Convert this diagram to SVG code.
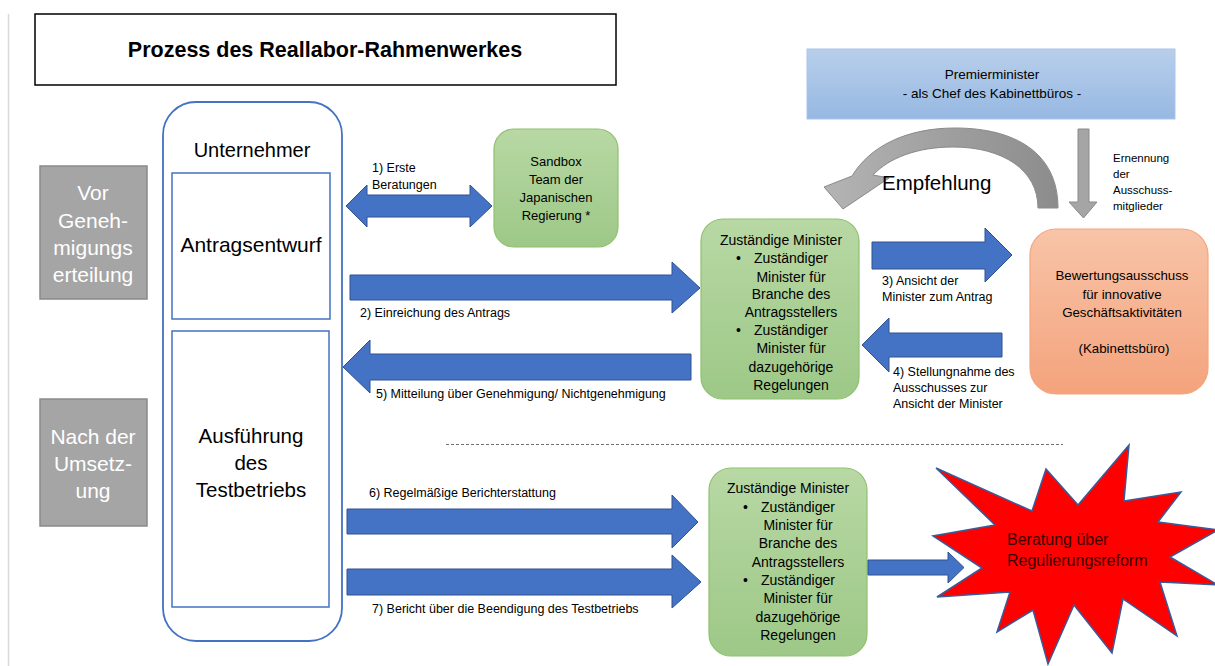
<svg xmlns="http://www.w3.org/2000/svg" width="1215" height="666" viewBox="0 0 1215 666">
<defs>
<linearGradient id="gGreen" x1="0" y1="0" x2="0" y2="1"><stop offset="0" stop-color="#b8d8a4"/><stop offset="1" stop-color="#9dc887"/></linearGradient>
<linearGradient id="gBlue" x1="0" y1="0" x2="0" y2="1"><stop offset="0" stop-color="#b8cfeb"/><stop offset="1" stop-color="#97b8e2"/></linearGradient>
<linearGradient id="gOrange" x1="0" y1="0" x2="0" y2="1"><stop offset="0" stop-color="#f8c4a8"/><stop offset="1" stop-color="#f4a37c"/></linearGradient>
<linearGradient id="gGray" x1="0" y1="0" x2="1" y2="0"><stop offset="0" stop-color="#b4b4b4"/><stop offset="1" stop-color="#8c8c8c"/></linearGradient>
</defs>
<style>
text{font-family:"Liberation Sans",Arial,sans-serif;fill:#000}
.lbl{font-size:12.5px}
.box{font-size:14px}
.big{font-size:20.5px}
.wh{font-size:21px;fill:#fff}
.c{text-anchor:middle}
.arr{fill:#4472c4;stroke:#2f528f;stroke-width:1}
.green{fill:url(#gGreen);stroke:#90c070;stroke-width:1.2}
.inner{fill:#fff;stroke:#4472c4;stroke-width:1.5}
.side{fill:#a5a5a5;stroke:#8a8a8a;stroke-width:1.5}
</style>
<rect width="1215" height="666" fill="#fff"/>
<line x1="8.5" y1="14" x2="8.5" y2="666" stroke="#d9d9d9" stroke-width="1.5"/>

<g id="title">
<rect x="35" y="14" width="581" height="71" fill="#fff" stroke="#000" stroke-width="1.5"/>
<text x="325" y="57" class="c" style="font-size:21.5px;font-weight:bold">Prozess des Reallabor-Rahmenwerkes</text>
</g>

<g id="phase-before">
<rect x="40" y="166" width="107" height="133" class="side"/>
<text class="wh c" x="93" y="200">Vor</text>
<text class="wh c" x="93" y="228">Geneh-</text>
<text class="wh c" x="93" y="255">migungs</text>
<text class="wh c" x="93" y="282">erteilung</text>
</g>
<g id="phase-after">
<rect x="40" y="399" width="107" height="127" class="side"/>
<text class="wh c" x="93" y="444">Nach der</text>
<text class="wh c" x="93" y="471">Umsetz-</text>
<text class="wh c" x="93" y="498">ung</text>
</g>

<g id="unternehmer">
<rect x="163" y="102" width="179" height="539" rx="33" ry="33" fill="#fff" stroke="#4472c4" stroke-width="1.8"/>
<text class="c" x="252" y="157" style="font-size:20px">Unternehmer</text>
</g>
<g id="antragsentwurf">
<rect x="172" y="173" width="158" height="146" class="inner"/>
<text class="c" x="251" y="252" style="font-size:21px">Antragsentwurf</text>
</g>
<g id="ausfuehrung">
<rect x="172" y="331" width="157" height="276" class="inner"/>
<text class="big c" x="251" y="443">Ausführung</text>
<text class="big c" x="251" y="470">des</text>
<text class="big c" x="251" y="497">Testbetriebs</text>
</g>

<g id="sandbox">
<rect x="494" y="129" width="124" height="118" rx="20" ry="20" class="green"/>
<text class="c" style="font-size:13px" x="556" y="166">Sandbox</text>
<text class="c" style="font-size:13px" x="556" y="184">Team der</text>
<text class="c" style="font-size:13px" x="556" y="202">Japanischen</text>
<text class="c" style="font-size:13px" x="556" y="220">Regierung *</text>
</g>

<g id="minister-top">
<rect x="701" y="219" width="158" height="180" rx="22" ry="22" class="green"/>
<text class="box c" x="781" y="245">Zuständige Minister</text>
<text class="box" x="736" y="263">•</text>
<text class="box c" x="791" y="263">Zuständiger</text>
<text class="box c" x="791" y="282">Minister für</text>
<text class="box c" x="791" y="299">Branche des</text>
<text class="box c" x="791" y="317">Antragsstellers</text>
<text class="box" x="736" y="335">•</text>
<text class="box c" x="791" y="335">Zuständiger</text>
<text class="box c" x="791" y="353">Minister für</text>
<text class="box c" x="791" y="372">dazugehörige</text>
<text class="box c" x="791" y="390">Regelungen</text>
</g>

<g id="minister-bottom">
<rect x="709" y="468" width="158" height="188" rx="22" ry="22" class="green"/>
<text class="box c" x="788" y="493">Zuständige Minister</text>
<text class="box" x="743" y="512">•</text>
<text class="box c" x="798" y="512">Zuständiger</text>
<text class="box c" x="798" y="530">Minister für</text>
<text class="box c" x="798" y="548">Branche des</text>
<text class="box c" x="798" y="567">Antragsstellers</text>
<text class="box" x="743" y="585">•</text>
<text class="box c" x="798" y="585">Zuständiger</text>
<text class="box c" x="798" y="603">Minister für</text>
<text class="box c" x="798" y="622">dazugehörige</text>
<text class="box c" x="798" y="640">Regelungen</text>
</g>

<g id="premierminister">
<rect x="807" y="49" width="368" height="70" fill="url(#gBlue)" stroke="#a8c6ea" stroke-width="1"/>
<text class="c" style="font-size:13.5px" x="992" y="79">Premierminister</text>
<text class="c" style="font-size:13.5px" x="992" y="98">- als Chef des Kabinettbüros -</text>
</g>

<g id="bewertungsausschuss">
<rect x="1030" y="229" width="178" height="165" rx="26" ry="26" fill="url(#gOrange)" stroke="#f2a67c" stroke-width="1.2"/>
<text class="c" style="font-size:13.3px" x="1122" y="280">Bewertungsausschuss</text>
<text class="c" style="font-size:13.3px" x="1122" y="299">für innovative</text>
<text class="c" style="font-size:13.3px" x="1122" y="317">Geschäftsaktivitäten</text>
<text class="c" style="font-size:13.3px" x="1124" y="353">(Kabinettsbüro)</text>
</g>

<g id="beratung">
<polygon points="936,468 1032,511 1046,469 1078,505 1129,445 1124,501 1181,492 1158,522 1218,530 1170,557 1218,585 1160,582 1177,636 1123,599 1112,653 1074,605 1048,664 1033,610 997,632 1010,592 937,597 982,568 933,536 995,525" fill="#ff0000" stroke="#3a5a9a" stroke-width="1.5" stroke-linejoin="miter"/>
<text x="1007" y="545" style="font-size:16px;fill:#3a0000">Beratung über</text>
<text x="1007" y="566" style="font-size:16px;fill:#3a0000">Regulierungsreform</text>
</g>

<g id="connectors">
<polygon class="arr" points="346,206 367,185 367,195 470,195 470,185 492,206 470,227 470,217 367,217 367,227"/>
<text class="lbl" x="372" y="172">1) Erste</text>
<text class="lbl" x="372" y="189">Beratungen</text>

<polygon class="arr" points="350,275 672,275 672,262 700,288 672,313 672,300 350,300"/>
<text class="lbl" x="360" y="317">2) Einreichung des Antrags</text>

<polygon class="arr" points="872,242 985,242 985,228 1012,255 985,282 985,269 872,269"/>
<text class="lbl" x="882" y="285">3) Ansicht der</text>
<text class="lbl" x="882" y="301">Minister zum Antrag</text>

<polygon class="arr" points="1002,333 889,333 889,318 862,345 889,372 889,357 1002,357"/>
<text class="lbl" x="893" y="376">4) Stellungnahme des</text>
<text class="lbl" x="893" y="392">Ausschusses zur</text>
<text class="lbl" x="893" y="408">Ansicht der Minister</text>

<polygon class="arr" points="691,354 370,354 370,340 343,367 370,393 370,380 691,380"/>
<text class="lbl" x="376" y="398">5) Mitteilung über Genehmigung/ Nichtgenehmigung</text>

<line x1="446" y1="444.5" x2="1063" y2="444.5" stroke="#707070" stroke-width="1" stroke-dasharray="3,2"/>

<polygon class="arr" points="347,509 672,509 672,495 698,522 672,548 672,534 347,534"/>
<text class="lbl" x="369" y="497">6) Regelmäßige Berichterstattung</text>

<polygon class="arr" points="347,569 672,569 672,555 701,582 672,608 672,595 347,595"/>
<text class="lbl" x="372" y="613">7) Bericht über die Beendigung des Testbetriebs</text>

<polygon class="arr" points="868,560 948,560 948,552 964,567.5 948,583 948,575 868,575"/>

<path d="M1058,208 C1058,152 1014,128 955,128 C907,128 870,146 852,176 L824,187 L843,209 L889,178 L873,175 C889,158 917,147 953,147 C1003,147 1038,170 1038,208 Z" fill="url(#gGray)" stroke="#8a8a8a" stroke-width="1"/>
<text x="882" y="190" style="font-size:20.5px">Empfehlung</text>

<polygon points="1078,129 1089,129 1089,202 1097,202 1083.5,218 1069,202 1078,202" fill="#a5a5a5" stroke="#8a8a8a" stroke-width="1"/>
<text style="font-size:11.5px" x="1113" y="162">Ernennung</text>
<text style="font-size:11.5px" x="1113" y="178">der</text>
<text style="font-size:11.5px" x="1113" y="194">Ausschuss-</text>
<text style="font-size:11.5px" x="1113" y="210">mitglieder</text>
</g>
</svg>
